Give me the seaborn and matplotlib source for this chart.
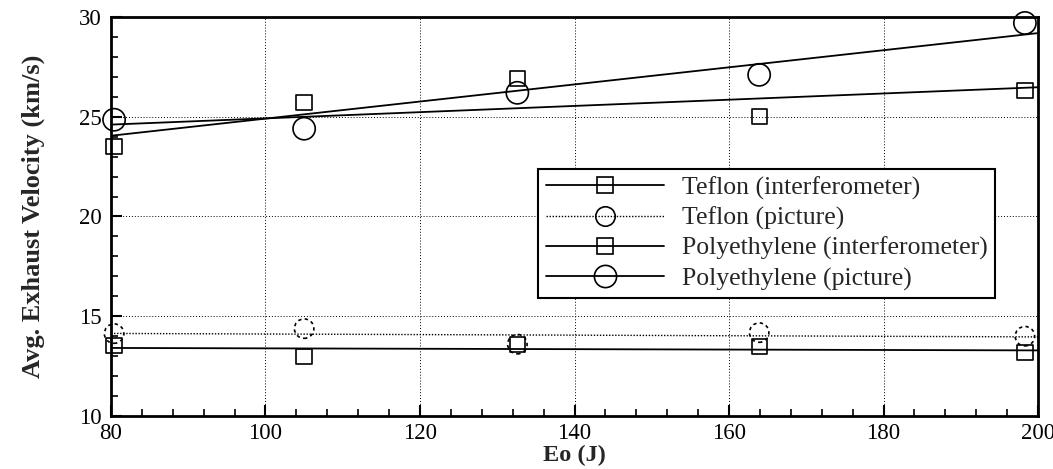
import numpy as np
import pandas as pd
import matplotlib
matplotlib.use("Agg")
import matplotlib.pyplot as plt
from matplotlib.lines import Line2D
from matplotlib.ticker import MultipleLocator
import seaborn as sns

# Measured exhaust velocities (km/s) against initial energy Eo (J)
energy = [80.4, 105.0, 132.6, 163.9, 198.3]
teflon_interf = [13.55, 13.0, 13.58, 13.47, 13.17]
teflon_picture = [14.13, 14.38, 13.6, 14.18, 14.0]
poly_interf = [23.5, 25.7, 26.9, 25.0, 26.3]
poly_picture = [24.85, 24.4, 26.2, 27.1, 29.7]

labels = ["Teflon (interferometer)", "Teflon (picture)",
          "Polyethylene (interferometer)", "Polyethylene (picture)"]
x_ticks = [80, 100, 120, 140, 160, 180, 200]
y_ticks = [10, 15, 20, 25, 30]

sns.set_theme(style="white")
plt.rcParams["font.family"] = ["Liberation Serif", "DejaVu Serif"]

fig = plt.figure(figsize=(10.53, 4.69), dpi=100)
ax = fig.add_axes([0.1054, 0.113, 0.8804, 0.8508])

styles = [
    dict(marker="s", ms=11, ls="-", lw=1.3, mls="-"),
    dict(marker="o", ms=14, ls=(0, (1, 1.2)), lw=1.0, mls=(0, (2, 2))),
    dict(marker="s", ms=11, ls="-", lw=1.3, mls="-"),
    dict(marker="o", ms=16, ls="-", lw=1.3, mls="-"),
]
series = [teflon_interf, teflon_picture, poly_interf, poly_picture]

df = pd.DataFrame({"Eo": energy})
xfit = np.array([80.0, 200.0])
handles = []
for lab, vals, st in zip(labels, series, styles):
    df[lab] = vals
    # least-squares trend line for each data set
    k, b = np.polyfit(energy, vals, 1)
    fit = pd.DataFrame({"Eo": xfit, "v": k * xfit + b})
    sns.lineplot(data=fit, x="Eo", y="v", ax=ax, color="black",
                 linestyle=st["ls"], linewidth=st["lw"], zorder=3)
    sns.scatterplot(data=df, x="Eo", y=lab, ax=ax, marker=st["marker"],
                    s=st["ms"] ** 2, facecolor="none", edgecolor="black",
                    linewidth=1.2, linestyle=st["mls"], zorder=4, clip_on=False)
    handles.append(Line2D([0], [0], color="black", linestyle=st["ls"],
                          linewidth=st["lw"], marker=st["marker"],
                          markersize=st["ms"], markerfacecolor="none",
                          markeredgecolor="black", markeredgewidth=1.2))

ax.set_xlim(80, 200)
ax.set_ylim(10, 30)
ax.set_xticks(x_ticks)
ax.set_yticks(y_ticks)
ax.xaxis.set_minor_locator(MultipleLocator(4))
ax.yaxis.set_minor_locator(MultipleLocator(1))
ax.tick_params(which="both", direction="in", top=False, right=False,
               labelsize=16.5, colors="black")
ax.tick_params(which="major", length=8, width=1.5, left=True, bottom=True)
ax.tick_params(which="minor", length=5, width=1.2, left=True, bottom=True)
ax.tick_params(axis="y", which="major", pad=7)
ax.tick_params(axis="x", which="major", pad=5)
ax.grid(True, which="major", color="black", linestyle=(0, (1, 2)),
        linewidth=0.7)
for sp in ax.spines.values():
    sp.set_color("black")
    sp.set_linewidth(2)

ax.set_xlabel("Eo (J)", fontsize=17.5, fontweight="bold", labelpad=1)
ax.set_ylabel("Avg. Exhaust Velocity (km/s)", fontsize=19,
              fontweight="bold", labelpad=24)

leg = ax.legend(handles, labels, loc="upper left",
                bbox_to_anchor=(0.4606, 0.62), fontsize=18.5, frameon=True,
                fancybox=False, edgecolor="black", framealpha=1,
                handlelength=4.6, handletextpad=0.7, borderpad=0.3,
                labelspacing=0.27, borderaxespad=0)
leg.get_frame().set_linewidth(1.5)

fig.savefig("out.png", dpi=100)
